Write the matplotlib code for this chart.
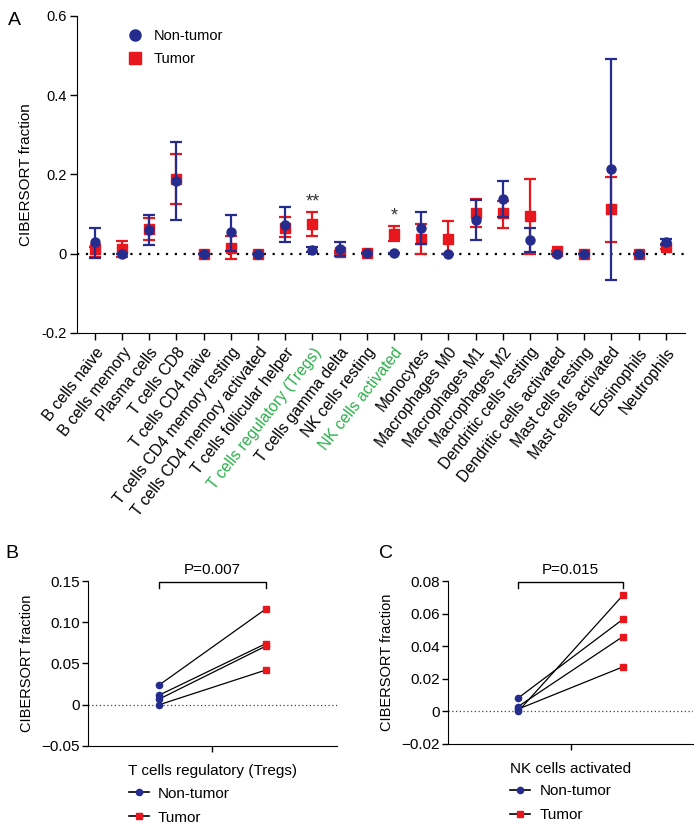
import matplotlib
matplotlib.use("Agg")
import matplotlib.pyplot as plt
from matplotlib.lines import Line2D

plt.rcParams['font.family'] = ['Liberation Sans', 'DejaVu Sans']

BLUE = '#262b8e'
RED = '#e8161d'
GREEN = '#2bb04a'

# panel A: mean and error bar limits
cells = ['B cells naive', 'B cells memory', 'Plasma cells', 'T cells CD8',
         'T cells CD4 naive', 'T cells CD4 memory resting',
         'T cells CD4 memory activated', 'T cells follicular helper',
         'T cells regulatory (Tregs)', 'T cells gamma delta',
         'NK cells resting', 'NK cells activated', 'Monocytes',
         'Macrophages M0', 'Macrophages M1', 'Macrophages M2',
         'Dendritic cells resting', 'Dendritic cells activated',
         'Mast cells resting', 'Mast cells activated', 'Eosinophils',
         'Neutrophils']
green_cells = ['T cells regulatory (Tregs)', 'NK cells activated']

nt_mean = [0.029, 0.0, 0.060, 0.184, 0.0, 0.054, 0.0, 0.073, 0.010, 0.012,
           0.001, 0.002, 0.066, 0.0, 0.084, 0.138, 0.034, 0.0, 0.0, 0.213,
           0.0, 0.029]
nt_hi = [0.066, 0.0, 0.098, 0.281, 0.0, 0.098, 0.0, 0.119, 0.017, 0.029,
         0.001, 0.002, 0.106, 0.0, 0.136, 0.183, 0.064, 0.0, 0.0, 0.491,
         0.0, 0.037]
nt_lo = [-0.012, 0.0, 0.021, 0.086, 0.0, 0.008, 0.0, 0.029, 0.004, -0.005,
         0.001, 0.002, 0.024, 0.0, 0.034, 0.092, 0.004, 0.0, 0.0, -0.066,
         0.0, 0.023]

t_mean = [0.012, 0.012, 0.062, 0.189, 0.0, 0.014, 0.0, 0.066, 0.076, 0.004,
          0.002, 0.050, 0.037, 0.037, 0.103, 0.102, 0.094, 0.007, 0.0, 0.113,
          0.0, 0.018]
t_hi = [0.018, 0.032, 0.090, 0.251, 0.0, 0.044, 0.0, 0.092, 0.106, 0.006,
        0.002, 0.069, 0.076, 0.082, 0.139, 0.134, 0.189, 0.007, 0.0, 0.194,
        0.0, 0.025]
t_lo = [-0.007, -0.009, 0.035, 0.126, 0.0, -0.013, 0.0, 0.041, 0.046, 0.002,
        0.002, 0.032, 0.0, 0.0, 0.067, 0.065, 0.0, 0.007, 0.0, 0.030,
        0.0, 0.012]

stars = {'T cells regulatory (Tregs)': '**', 'NK cells activated': '*'}

# panel B / C: paired samples
treg_nt = [0.024, 0.0117, 0.0069, 0.0]
treg_t = [0.116, 0.074, 0.071, 0.042]
nk_nt = [0.0082, 0.0, 0.003, 0.0014]
nk_t = [0.0565, 0.0712, 0.0459, 0.0273]

fig = plt.figure(figsize=(6.96, 8.24), dpi=100)

# ---------------- panel A ----------------
ax = fig.add_axes([0.1106, 0.5959, 0.8734, 0.3847])
x = list(range(len(cells)))
ax.axhline(0, color='black', ls=(0, (1, 3)), lw=1.6, zorder=1)

t_err = [[m - l for m, l in zip(t_mean, t_lo)], [h - m for m, h in zip(t_mean, t_hi)]]
nt_err = [[m - l for m, l in zip(nt_mean, nt_lo)], [h - m for m, h in zip(nt_mean, nt_hi)]]
ax.errorbar(x, t_mean, yerr=t_err, fmt='s', color=RED, ms=6.5, elinewidth=1.6,
            capsize=4.5, capthick=1.6, zorder=3)
ax.errorbar(x, nt_mean, yerr=nt_err, fmt='o', color=BLUE, ms=6.5, elinewidth=1.6,
            capsize=4.5, capthick=1.6, zorder=4)

for name, s in stars.items():
    i = cells.index(name)
    ax.text(i, t_hi[i] + 0.004, s, ha='center', va='bottom', fontsize=13,
            color='#333333')

ax.set_xlim(-0.66, 21.7)
ax.set_ylim(-0.2, 0.6)
ax.set_yticks([0.6, 0.4, 0.2, 0, -0.2])
ax.set_yticklabels(['0.6', '0.4', '0.2', '0', '-0.2'], fontsize=10.5)
ax.set_xticks(x)
ax.set_xticklabels(cells, rotation=52, ha='right', va='top',
                   rotation_mode='anchor', fontsize=11.3)
for lab in ax.get_xticklabels():
    if lab.get_text() in green_cells:
        lab.set_color(GREEN)
ax.set_ylabel('CIBERSORT fraction', fontsize=11, labelpad=6)
ax.spines['top'].set_visible(False)
ax.spines['right'].set_visible(False)
ax.tick_params(direction='out', length=5, width=1)
ax.tick_params(axis='y', pad=2.5)

handles = [Line2D([], [], marker='o', ls='', color=BLUE, ms=8),
           Line2D([], [], marker='s', ls='', color=RED, ms=8)]
ax.legend(handles, ['Non-tumor', 'Tumor'], loc='upper left', frameon=False,
          bbox_to_anchor=(0.05, 1.0), fontsize=10.5, handletextpad=0.3,
          labelspacing=0.6)

fig.text(0.012, 0.985, 'A', fontsize=14, va='top')


# ---------------- panels B and C ----------------
def paired(rect, nt, tv, ylim, yticks, yticklabels, xlabel, ptext, letter,
           letter_x, lx):
    ax = fig.add_axes(rect)
    ax.axhline(0, color='#444444', ls=(0, (1, 2)), lw=0.9, zorder=1)
    for a, b in zip(nt, tv):
        ax.plot([-0.5, 0.5], [a, b], color='black', lw=0.9, zorder=2)
    ax.plot([-0.5] * len(nt), nt, 'o', color=BLUE, ms=4.5, zorder=3)
    ax.plot([0.5] * len(tv), tv, 's', color=RED, ms=4.5, zorder=3)

    ax.set_xlim(-1.17, 1.17)
    ax.set_ylim(*ylim)
    ax.set_yticks(yticks)
    ax.set_yticklabels(yticklabels, fontsize=11)
    ax.set_xticks([0])
    ax.set_xticklabels([xlabel], fontsize=11)
    ax.spines['top'].set_visible(False)
    ax.spines['right'].set_visible(False)
    ax.tick_params(direction='out', length=4, width=1)
    ax.tick_params(axis='y', pad=2)
    ax.tick_params(axis='x', pad=9)
    ax.set_ylabel('CIBERSORT fraction', fontsize=10.5, labelpad=5)

    span = ylim[1] - ylim[0]
    top = ylim[1] - span * 0.005
    drop = span * 0.04
    ax.plot([-0.5, -0.5, 0.5, 0.5], [top - drop, top, top, top - drop],
            color='black', lw=1, clip_on=False)
    ax.text(0, top + span * 0.03, ptext, ha='center', va='bottom', fontsize=11)

    handles = [Line2D([], [], marker='o', color='black', mfc=BLUE, mec=BLUE,
                      ms=4.5, lw=1.2),
               Line2D([], [], marker='s', color='black', mfc=RED, mec=RED,
                      ms=4.5, lw=1.2)]
    ax.legend(handles, ['Non-tumor', 'Tumor'], loc='upper left', frameon=False,
              bbox_to_anchor=(lx, -0.21), fontsize=11, handlelength=1.3,
              handletextpad=0.6, labelspacing=0.65, borderaxespad=0)
    fig.text(letter_x, 0.338, letter, fontsize=14, va='top')


paired([0.1264, 0.0947, 0.3578, 0.2002], treg_nt, treg_t, (-0.05, 0.15),
       [0.15, 0.10, 0.05, 0, -0.05], ['0.15', '0.10', '0.05', '0', '\u22120.05'],
       'T cells regulatory (Tregs)', 'P=0.007', 'B', 0.008, 0.14)
paired([0.6437, 0.0971, 0.3520, 0.1978], nk_nt, nk_t, (-0.02, 0.08),
       [0.08, 0.06, 0.04, 0.02, 0, -0.02],
       ['0.08', '0.06', '0.04', '0.02', '0', '\u22120.02'],
       'NK cells activated', 'P=0.015', 'C', 0.545, 0.23)

fig.savefig('out.png', dpi=100)
